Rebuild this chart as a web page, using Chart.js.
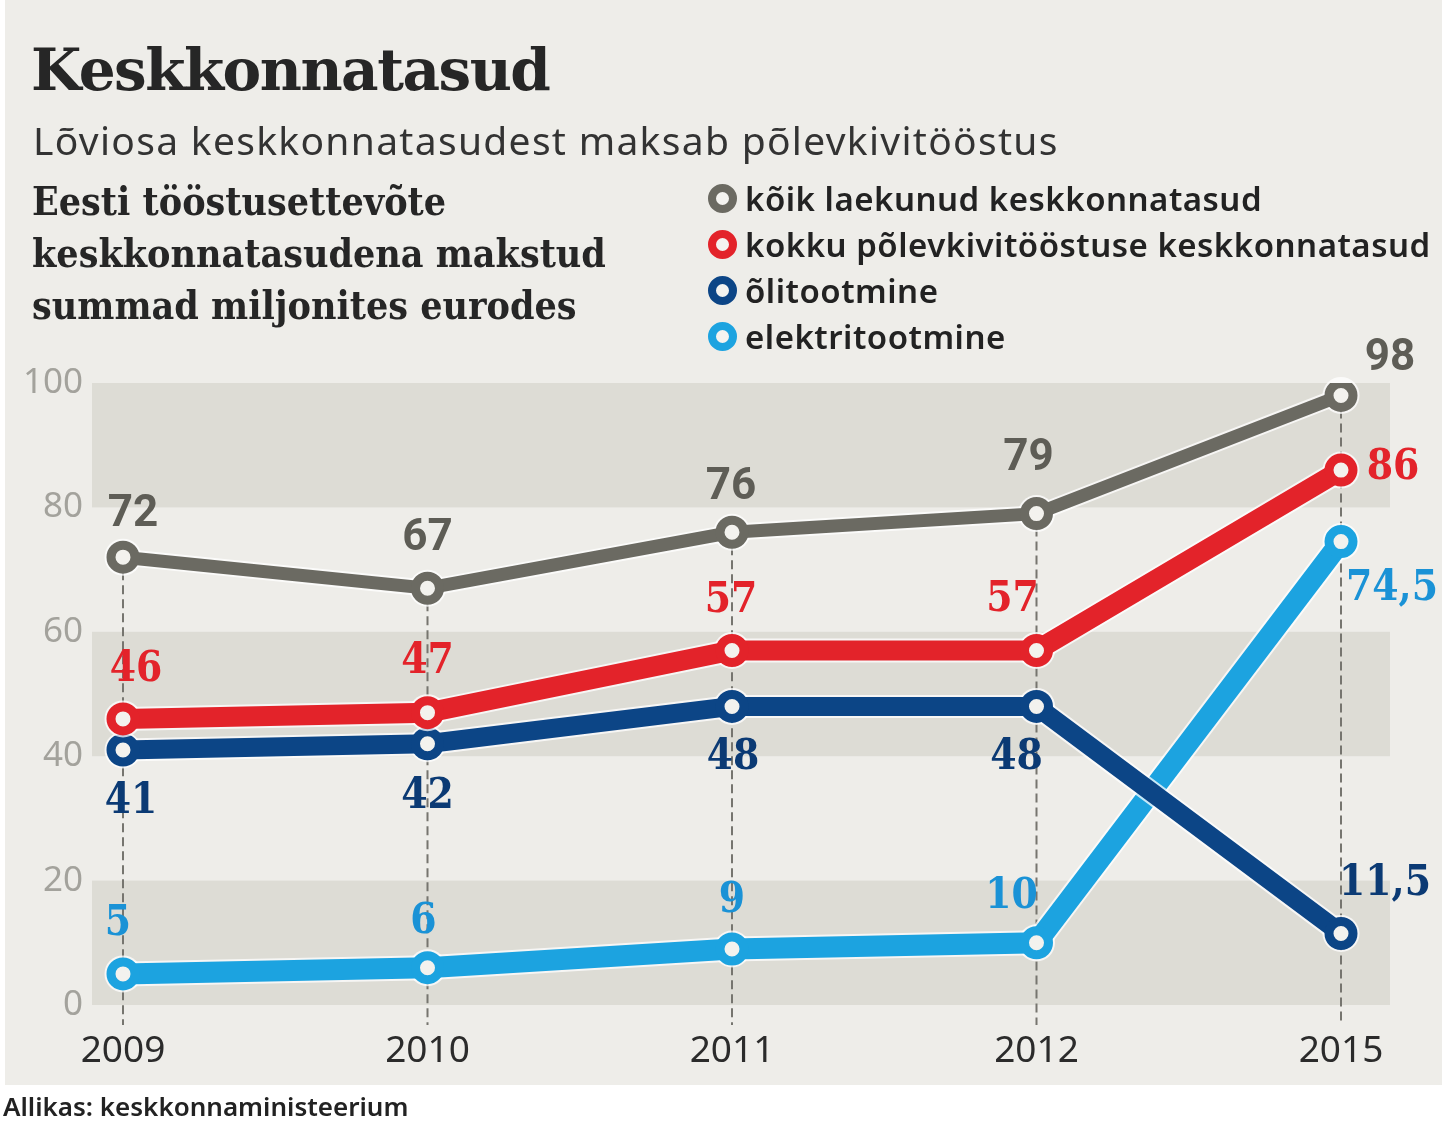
<!DOCTYPE html>
<html lang="et">
<head>
<meta charset="utf-8">
<title>Keskkonnatasud</title>
<script src="https://cdn.jsdelivr.net/npm/chart.js@4.4.1/dist/chart.umd.min.js"></script>
<style>
    body { margin: 0; background: #fff; }
    #page { position: relative; width: 1442px; height: 1122px; overflow: hidden; }
    #panel { position: absolute; left: 5px; top: 0; width: 1437px; height: 1085px; background: #eeede9; }
    #myChart { position: absolute; left: 0; top: 0; }
    .txt { position: absolute; color: #262626; white-space: nowrap; }
    #title { left: 31px; top: 36px; font: bold 58px 'DejaVu Serif', serif; letter-spacing: -1.5px; }
    #subtitle { left: 33px; top: 113px; font: 400 39px 'Noto Sans', sans-serif; letter-spacing: 1.3px; color: #333; }
    #sidetitle { left: 32px; top: 175px; font: bold 39px/52px 'DejaVu Serif Condensed', 'DejaVu Serif', serif; }
    #legend { left: 708px; top: 175px; font: 600 33px 'Noto Sans', sans-serif; letter-spacing: 0.5px; color: #222; }
    #legend div { height: 46px; display: flex; align-items: center; }
    #legend span.dot { display: inline-block; width: 13px; height: 13px; border-radius: 50%; border: 8px solid; background: #f4f3f0; margin-right: 8px; }
    #source { left: 3px; top: 1088px; font: 600 26px 'Noto Sans', sans-serif; color: #222; }
</style>
</head>
<body>
<div id="page">
    <div id="panel"></div>
    <canvas id="myChart" width="1442" height="1122"></canvas>
    <div class="txt" id="title">Keskkonnatasud</div>
    <div class="txt" id="subtitle">Lõviosa keskkonnatasudest maksab põlevkivitööstus</div>
    <div class="txt" id="sidetitle">Eesti tööstusettevõte<br>keskkonnatasudena makstud<br>summad miljonites eurodes</div>
    <div class="txt" id="legend"></div>
    <div class="txt" id="source">Allikas: keskkonnaministeerium</div>
</div>
<script>
// andmed (miljonit eurot)
const years = ['2009', '2010', '2011', '2012', '2015'];
const koikTasud = [72, 67, 76, 79, 98];
const polevkiviTasud = [46, 47, 57, 57, 86];
const olitootmine = [41, 42, 48, 48, 11.5];
const elektritootmine = [5, 6, 9, 10, 74.5];
const yTicks = [0, 20, 40, 60, 80, 100];

const seriesNames = [
    'kõik laekunud keskkonnatasud',
    'kokku põlevkivitööstuse keskkonnatasud',
    'õlitootmine',
    'elektritootmine'
];
const seriesData = [koikTasud, polevkiviTasud, olitootmine, elektritootmine];
const lineColors = ['#6b6a62', '#e3232a', '#0c4586', '#1ca3e0'];
const labelColors = ['#5e5d56', '#e3232a', '#0b3a74', '#1a92d6'];
const lineWidths = [13, 20, 19, 21];
const labelFonts = [
    "bold 44px 'Liberation Sans Narrow', 'Roboto', sans-serif",
    "bold 42px 'DejaVu Serif Condensed', 'DejaVu Serif', serif",
    "bold 42px 'DejaVu Serif Condensed', 'DejaVu Serif', serif",
    "bold 42px 'DejaVu Serif Condensed', 'DejaVu Serif', serif"
];
// sildi nihe punkti suhtes [dx, dy]
const labelOffsets = [
    [[10, -42], [0, -49], [-1, -44], [-8, -55], [49, -36]],
    [[13, -49], [0, -51], [-1, -49], [-24, -50], [52, -2]],
    [[8, 52], [0, 53], [1, 52], [-20, 52], [44, -49]],
    [[-5, -50], [-4, -46], [0, -48], [-25, -46], [51, 47]]
];
const shadedBands = [[0, 20], [40, 60], [80, 100]];

// legend
const legendEl = document.getElementById('legend');
seriesNames.forEach(function(name, i) {
    const row = document.createElement('div');
    row.innerHTML = '<span class="dot" style="border-color:' + lineColors[i] + '"></span>' + name;
    legendEl.appendChild(row);
});

function fmt(v) {
    return String(v).replace('.', ',');
}

const bandPlugin = {
    id: 'bands',
    beforeDatasetsDraw(chart) {
        const { ctx, chartArea: a, scales: { x, y } } = chart;
        ctx.save();
        ctx.fillStyle = '#dddcd5';
        shadedBands.forEach(function(b) {
            const top = y.getPixelForValue(b[1]);
            const bottom = y.getPixelForValue(b[0]);
            ctx.fillRect(a.left, top, a.right - a.left, bottom - top);
        });
        // katkendjooned punktidest alla
        ctx.strokeStyle = '#76756f';
        ctx.lineWidth = 2;
        ctx.setLineDash([9, 5]);
        years.forEach(function(_, i) {
            const topVal = Math.max.apply(null, seriesData.map(s => s[i]));
            const px = x.getPixelForValue(i);
            ctx.beginPath();
            ctx.moveTo(px, y.getPixelForValue(topVal));
            ctx.lineTo(px, a.bottom + 20);
            ctx.stroke();
        });
        ctx.restore();
    }
};

// hele ääris joonte ümber
const haloPlugin = {
    id: 'halo',
    beforeDatasetDraw(chart, args) {
        const i = args.index;
        const pts = args.meta.data;
        const ctx = chart.ctx;
        ctx.save();
        ctx.strokeStyle = 'rgba(255,255,255,0.75)';
        ctx.lineWidth = lineWidths[i] + 4;
        ctx.lineJoin = 'round';
        ctx.beginPath();
        pts.forEach((p, j) => j ? ctx.lineTo(p.x, p.y) : ctx.moveTo(p.x, p.y));
        ctx.stroke();
        ctx.fillStyle = 'rgba(255,255,255,0.75)';
        pts.forEach(function(p) {
            ctx.beginPath();
            ctx.arc(p.x, p.y, 18.5, 0, Math.PI * 2);
            ctx.fill();
        });
        ctx.restore();
    }
};

const valueLabelPlugin = {
    id: 'valueLabels',
    afterDatasetsDraw(chart) {
        const ctx = chart.ctx;
        ctx.save();
        ctx.textAlign = 'center';
        ctx.textBaseline = 'middle';
        chart.data.datasets.forEach(function(ds, i) {
            const meta = chart.getDatasetMeta(i);
            ctx.font = labelFonts[i];
            ctx.fillStyle = labelColors[i];
            meta.data.forEach(function(pt, j) {
                const off = labelOffsets[i][j];
                ctx.fillText(fmt(seriesData[i][j]), pt.x + off[0], pt.y + off[1]);
            });
        });
        ctx.restore();
    }
};

const ctx = document.getElementById('myChart').getContext('2d');
const chartData = {
    datasets: seriesData.map(function(vals, i) {
        return {
            label: seriesNames[i],
            data: vals.map((v, j) => ({ x: j, y: v })),
            borderColor: lineColors[i],
            borderWidth: lineWidths[i],
            pointRadius: 12,
            pointBorderWidth: 9,
            pointBorderColor: lineColors[i],
            pointBackgroundColor: '#f3f2ee',
            tension: 0,
            fill: false,
        };
    })
};

const config = {
    type: 'line',
    data: chartData,
    options: {
        responsive: false,
        animation: false,
        events: [],
        layout: { padding: { left: 0, top: 383, right: 52, bottom: 37 } },
        plugins: {
            legend: { display: false },
            tooltip: { enabled: false },
        },
        scales: {
            x: {
                type: 'linear',
                min: -31 / 304.5,
                max: 4 + 49 / 304.5,
                afterBuildTicks: function(scale) {
                    scale.ticks = years.map((_, i) => ({ value: i }));
                },
                afterFit: function(scale) { scale.height = 80; },
                grid: { display: false, drawTicks: false },
                border: { display: false },
                ticks: {
                    autoSkip: false,
                    maxRotation: 0,
                    padding: 24,
                    color: '#2b2b2b',
                    font: { family: "'Noto Sans', sans-serif", size: 37 },
                    callback: function(v) { return years[v]; }
                }
            },
            y: {
                min: 0,
                max: 100,
                afterBuildTicks: function(scale) {
                    scale.ticks = yTicks.map(v => ({ value: v }));
                },
                afterFit: function(scale) { scale.width = 92; },
                grid: { display: false, drawTicks: false },
                border: { display: false },
                ticks: {
                    padding: 9,
                    color: '#a3a29c',
                    font: { family: "'Noto Sans', sans-serif", size: 35 }
                }
            }
        }
    },
    plugins: [bandPlugin, haloPlugin, valueLabelPlugin]
};

const myChart = new Chart(ctx, config);
</script>
</body>
</html>
